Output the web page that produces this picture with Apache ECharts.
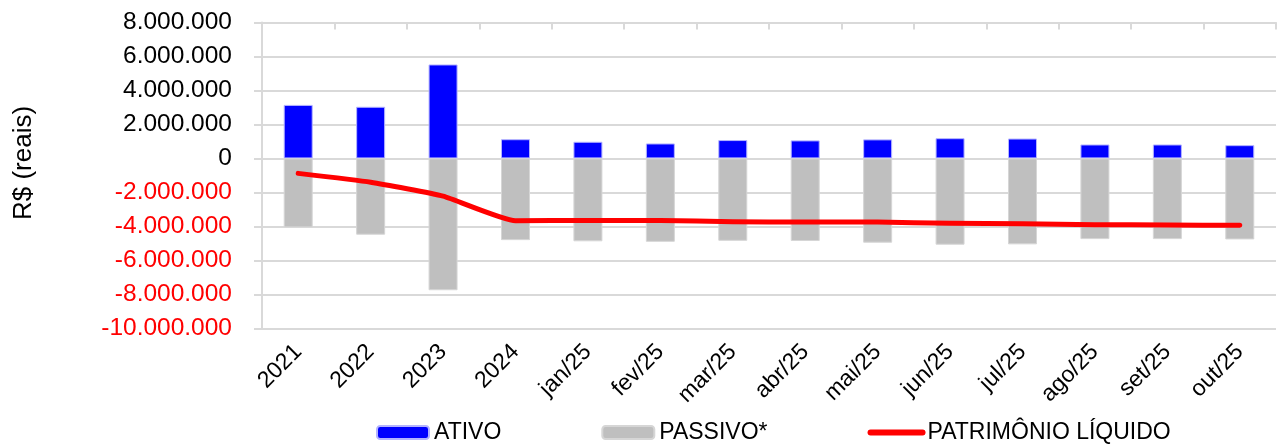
<!DOCTYPE html>
<html>
<head>
<meta charset="utf-8">
<script src="https://cdn.jsdelivr.net/npm/echarts@6/dist/echarts.min.js"></script>
<style>
  html, body { margin: 0; padding: 0; background: #fff; }
  #chart { width: 1280px; height: 445px; }
</style>
</head>
<body>
<div id="chart"></div>
<script>
// dados
var categorias = ['2021', '2022', '2023', '2024', 'jan/25', 'fev/25', 'mar/25', 'abr/25', 'mai/25', 'jun/25', 'jul/25', 'ago/25', 'set/25', 'out/25'];
var ativo = [3150000, 3040000, 5530000, 1130000, 980000, 880000, 1080000, 1060000, 1120000, 1190000, 1170000, 820000, 820000, 780000];
var passivo = [-4060000, -4490000, -7760000, -4810000, -4880000, -4910000, -4850000, -4860000, -4960000, -5080000, -5060000, -4750000, -4750000, -4770000];
var patrimonio = [-880000, -1400000, -2220000, -3670000, -3650000, -3650000, -3730000, -3750000, -3750000, -3820000, -3850000, -3900000, -3920000, -3940000];

var fonte = '"Liberation Sans", Arial, sans-serif';

function fmt(v) {
  var s = String(Math.abs(v)).replace(/\B(?=(\d{3})+(?!\d))/g, '.');
  return (v < 0 ? '-' : '') + s;
}

var chart = echarts.init(document.getElementById('chart'));

chart.setOption({
  animation: false,
  textStyle: { fontFamily: fonte },
  grid: { left: 262, right: 4, top: 22.5, bottom: 116.7, containLabel: false },
  graphic: [{
    type: 'text',
    x: 24, y: 163,
    rotation: Math.PI / 2,
    style: {
      text: 'R$ (reais)',
      font: '26px ' + fonte,
      fill: '#000',
      align: 'center',
      verticalAlign: 'middle'
    }
  }],
  legend: {
    left: 376,
    top: 421,
    padding: 0,
    itemGap: 100,
    itemWidth: 52,
    itemHeight: 13,
    textStyle: { fontSize: 23, color: '#000', fontFamily: fonte },
    data: [
      'ATIVO',
      'PASSIVO*',
      {
        name: 'PATRIMÔNIO LÍQUIDO',
        itemStyle: { opacity: 0 },
        lineStyle: { width: 6, color: '#ff0000', cap: 'round' }
      }
    ]
  },
  xAxis: [{
    type: 'category',
    data: categorias,
    position: 'bottom',
    axisLine: { show: false },
    axisTick: { show: false },
    axisLabel: { rotate: 45, fontSize: 23, color: '#000', margin: 20, interval: 0 }
  }, {
    type: 'category',
    data: categorias,
    position: 'top',
    axisLine: { onZero: true, lineStyle: { color: '#d9d9d9', width: 2 } },
    axisTick: { show: true, inside: true, length: 7, lineStyle: { color: '#d9d9d9', width: 2 } },
    axisLabel: { show: false }
  }],
  yAxis: {
    type: 'value',
    min: -10000000,
    max: 8000000,
    interval: 2000000,
    axisLine: { show: true, lineStyle: { color: '#d9d9d9', width: 2 } },
    axisTick: { show: true, length: 8, lineStyle: { color: '#d9d9d9', width: 2 } },
    splitLine: { lineStyle: { color: '#d9d9d9', width: 2 } },
    axisLabel: {
      margin: 30,
      formatter: function (v) {
        return v < 0 ? '{n|' + fmt(v) + '}' : '{p|' + fmt(v) + '}';
      },
      rich: {
        n: { color: '#ff0000', fontSize: 24.5, fontFamily: fonte },
        p: { color: '#000', fontSize: 24.5, fontFamily: fonte }
      }
    }
  },
  series: [{
    name: 'ATIVO',
    type: 'bar',
    data: ativo,
    barWidth: 29,
    barGap: '-100%',
    itemStyle: { color: '#0000ff', borderColor: '#b4b4ff', borderWidth: 1 }
  }, {
    name: 'PASSIVO*',
    type: 'bar',
    data: passivo,
    barWidth: 29,
    barGap: '-100%',
    itemStyle: { color: '#bfbfbf', borderColor: '#d6d6d6', borderWidth: 1 }
  }, {
    name: 'PATRIMÔNIO LÍQUIDO',
    type: 'line',
    data: patrimonio,
    symbol: 'none',
    smooth: 0.15,
    z: 5,
    lineStyle: { color: '#ff0000', width: 5, cap: 'round', join: 'round' },
    itemStyle: { color: '#ff0000' }
  }]
});
</script>
</body>
</html>
